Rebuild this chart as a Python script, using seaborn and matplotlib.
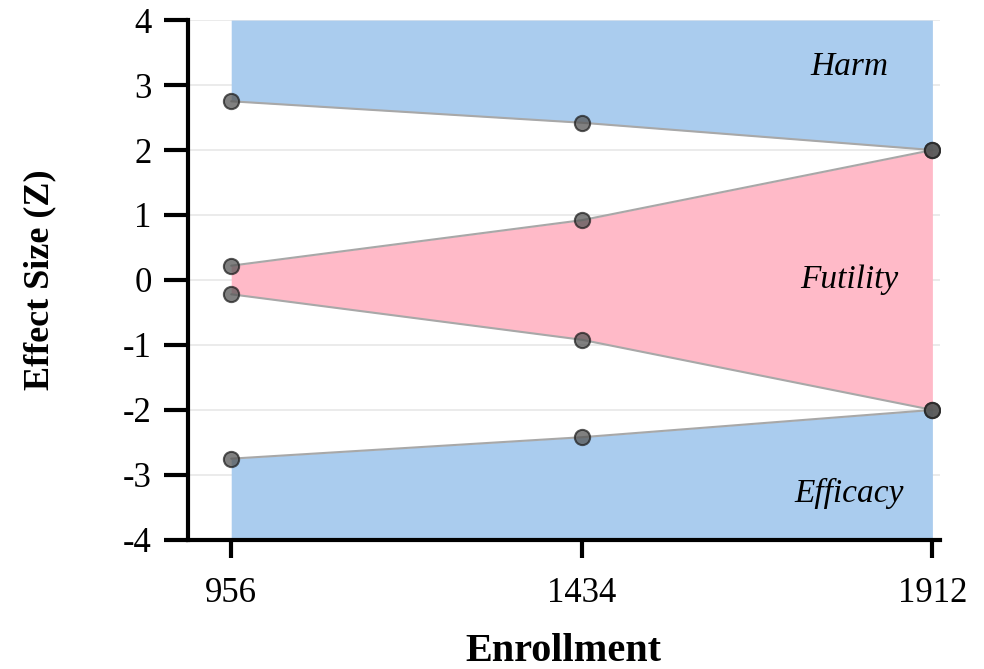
# group sequential design boundaries
import pandas as pd
import matplotlib.pyplot as plt
import seaborn as sns

enrollment = [956, 1434, 1912]
harm_bound = [2.75, 2.42, 2.0]
futility_upper = [0.22, 0.92, 2.0]
futility_lower = [-0.22, -0.92, -2.0]
efficacy_bound = [-2.75, -2.42, -2.0]
zone_labels = ["Harm", "Futility", "Efficacy"]

sns.set_style("white")
plt.rcParams["font.family"] = ["Liberation Serif", "DejaVu Serif"]
plt.rcParams["axes.unicode_minus"] = False
plt.rcParams["text.color"] = "black"
plt.rcParams["axes.labelcolor"] = "black"
plt.rcParams["xtick.color"] = "black"
plt.rcParams["ytick.color"] = "black"

df = pd.DataFrame({
    "Enrollment": enrollment * 4,
    "Z": harm_bound + futility_upper + futility_lower + efficacy_bound,
    "Boundary": ["harm"] * 3 + ["fut_up"] * 3 + ["fut_low"] * 3 + ["eff"] * 3,
})

fig, ax = plt.subplots(figsize=(9.84, 6.69), dpi=100)
fig.subplots_adjust(left=0.191, right=0.955, top=0.970, bottom=0.193)

blue = "#aaccee"
pink = "#ffbac8"
ax.fill_between(enrollment, harm_bound, 4, color=blue, lw=0, zorder=1)
ax.fill_between(enrollment, efficacy_bound, -4, color=blue, lw=0, zorder=1)
ax.fill_between(enrollment, futility_lower, futility_upper, color=pink, lw=0, zorder=1)

sns.lineplot(data=df, x="Enrollment", y="Z", units="Boundary", estimator=None,
             color="#a8a8a8", lw=1.5, ax=ax, zorder=2)
sns.scatterplot(data=df, x="Enrollment", y="Z", s=120, color="#555555", alpha=0.75,
                edgecolor="#222222", linewidth=1.5, ax=ax, zorder=3)

ax.text(1799, 3.28, zone_labels[0], style="italic", fontsize=24, ha="center", va="center")
ax.text(1799, 0.0, zone_labels[1], style="italic", fontsize=24, ha="center", va="center")
ax.text(1799, -3.28, zone_labels[2], style="italic", fontsize=24, ha="center", va="center")

ax.set_xlim(897, 1922)
ax.set_ylim(-4, 4)
ax.set_xticks(enrollment)
ax.set_xticklabels([str(e) for e in enrollment])
ax.set_yticks(range(-4, 5))
ax.yaxis.grid(True, color="#e8e8e8", lw=1.2, zorder=0)
ax.set_axisbelow(True)

sns.despine(ax=ax)
for side in ["left", "bottom"]:
    ax.spines[side].set_linewidth(3)
    ax.spines[side].set_color("black")
ax.tick_params(axis="y", left=True, length=17, width=3, labelsize=25, pad=9)
ax.tick_params(axis="x", bottom=True, length=13, width=3, labelsize=25, pad=14)

ax.set_xlabel("Enrollment", fontsize=29, fontweight="bold", labelpad=16)
ax.set_ylabel("Effect Size (Z)", fontsize=26, fontweight="bold", labelpad=48)

fig.savefig("out.png", dpi=100)
